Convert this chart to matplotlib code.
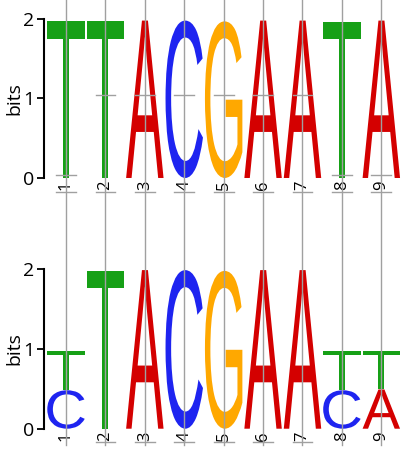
import matplotlib
matplotlib.use("Agg")
import matplotlib.pyplot as plt
from matplotlib.textpath import TextPath
from matplotlib.patches import PathPatch
from matplotlib.font_manager import FontProperties
from matplotlib import transforms

# columns of the motif
positions = [1, 2, 3, 4, 5, 6, 7, 8, 9]
tick_labels = ['1', '2', '3', '4', '5', '6', '7', '8', '9']

# each column: list of (letter, height in bits), bottom to top
top_logo = [
    [('T', 1.97)],
    [('T', 1.97)],
    [('A', 1.98)],
    [('C', 1.98)],
    [('G', 1.97)],
    [('A', 1.98)],
    [('A', 1.98)],
    [('T', 1.96)],
    [('A', 1.98)],
]
bottom_logo = [
    [('C', 0.48), ('T', 0.49)],
    [('T', 1.97)],
    [('A', 1.98)],
    [('C', 1.98)],
    [('G', 1.97)],
    [('A', 1.98)],
    [('A', 1.98)],
    [('C', 0.48), ('T', 0.49)],
    [('A', 0.49), ('T', 0.48)],
]

# little grey marks seen in the picture (column, height)
top_marks = [(1, 0.04), (2, 1.05), (3, 1.05), (4, 1.05), (5, 1.05),
             (6, 1.05), (7, 1.05), (8, 0.04), (9, 0.04)]
top_label_marks = [1, 2, 3, 4, 5, 6, 7, 8, 9]
bottom_label_marks = [2, 3, 4, 5, 6, 7]

colors = {'A': '#d40000', 'C': '#1e24f0', 'G': '#ffa800', 'T': '#16a016'}
letter_font = FontProperties(family='Liberation Sans')
grey = '#a0a0a0'


def draw_letter(ax, letter, x, y, w, h):
    path = TextPath((0, 0), letter, size=1, prop=letter_font)
    bb = path.get_extents()
    tr = (transforms.Affine2D()
          .translate(-bb.x0, -bb.y0)
          .scale(w / bb.width, h / bb.height)
          .translate(x - w / 2, y))
    patch = PathPatch(tr.transform_path(path), facecolor=colors[letter],
                      edgecolor='none', zorder=2)
    ax.add_patch(patch)


def draw_logo(ax, logo, label_y):
    for pos, stack in zip(positions, logo):
        base = 0
        for letter, h in stack:
            draw_letter(ax, letter, pos, base, 0.95, h)
            base += h
    ax.set_xlim(0.44, 9.55)
    ax.set_ylim(0, 2)
    ax.set_yticks([0, 1, 2])
    ax.set_yticklabels(['0', '1', '2'], fontsize=14, family='Open Sans')
    ax.tick_params(axis='y', direction='out', length=5, width=1.3, pad=2)
    ax.set_xticks(positions)
    ax.set_xticklabels(tick_labels, rotation=90, fontsize=12, family='Open Sans')
    ax.tick_params(axis='x', length=0, pad=2)
    for s in ['top', 'right', 'bottom']:
        ax.spines[s].set_visible(False)
    ax.spines['left'].set_linewidth(1.5)
    ax.patch.set_alpha(0)
    ax.set_ylabel('bits', fontsize=14, family='Open Sans')
    ax.yaxis.set_label_coords(-0.056, 0.5)
    for pos in label_y[0]:
        ax.plot([pos - 0.25, pos + 0.25], [label_y[1], label_y[1]], color=grey,
                lw=1, clip_on=False, zorder=5)


fig = plt.figure(figsize=(4.03, 4.49), dpi=100)
ax1 = fig.add_axes([0.109, 0.6036, 0.891, 0.3541])
ax2 = fig.add_axes([0.109, 0.0452, 0.891, 0.3568])

draw_logo(ax1, top_logo, (top_label_marks, -0.18))
draw_logo(ax2, bottom_logo, (bottom_label_marks, -0.17))

for pos, y in top_marks:
    ax1.plot([pos - 0.25, pos + 0.25], [y, y], color=grey, lw=1, zorder=5)

# grey vertical guide lines through every column, full figure height
trans = transforms.blended_transform_factory(ax1.transData, fig.transFigure)
for pos in positions:
    fig.add_artist(plt.Line2D([pos, pos], [0.01, 1.0], transform=trans,
                              color=grey, lw=1, zorder=10))

fig.savefig('out.png', dpi=100)
